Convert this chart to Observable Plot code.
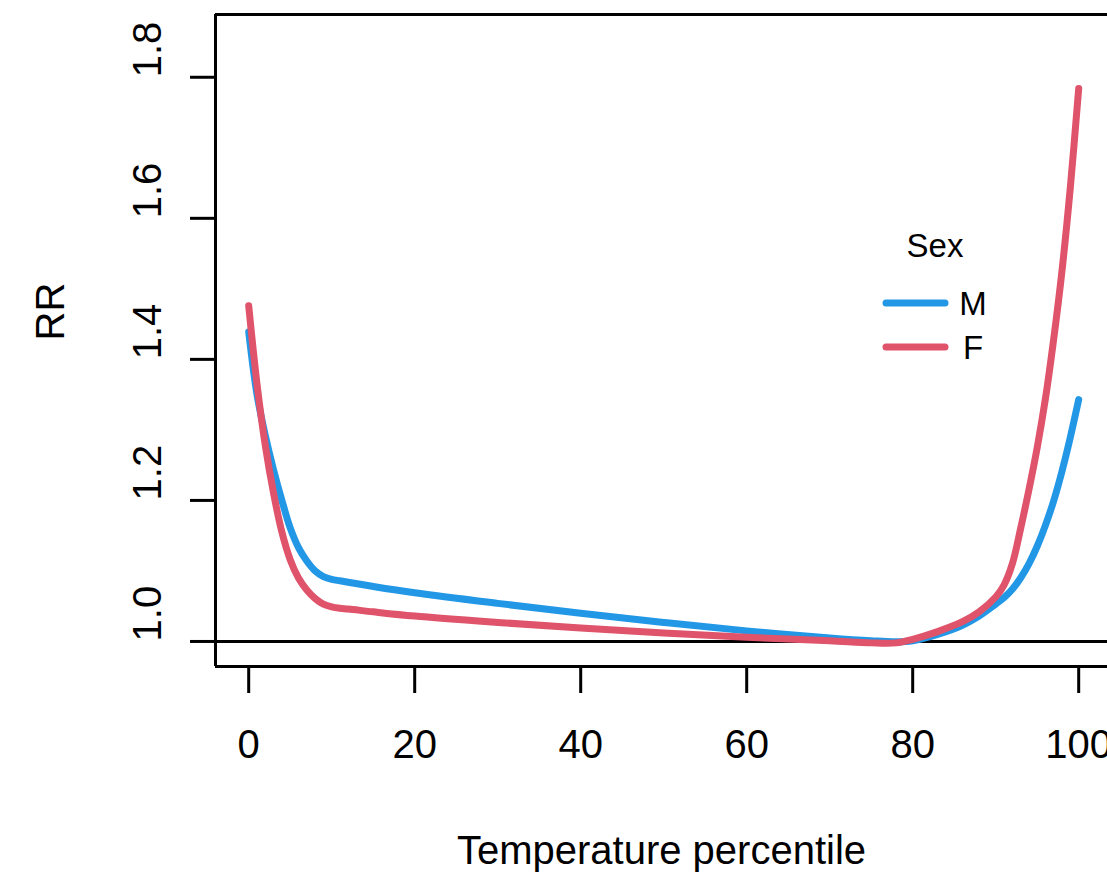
<!DOCTYPE html>
<html>
<head>
<meta charset="utf-8">
<script src="https://cdn.jsdelivr.net/npm/d3@7"></script>
<script src="https://cdn.jsdelivr.net/npm/@observablehq/plot@0.6"></script>
<style>
  body { margin: 0; background: #fff; }
  #chart { width: 1107px; height: 875px; }
</style>
</head>
<body>
<div id="chart"></div>
<script>
// ---- data ----
const percentile = [0,1,2,3,4,5,6,7,8,9,10,11,12,15,20,30,40,50,60,70,75,78,80,83,86,88,90,91,92,93,94,95,96,97,98,99,100];
const rrM = [1.439,1.350,1.292,1.243,1.200,1.161,1.133,1.114,1.100,1.092,1.088,1.086,1.084,1.078,1.069,1.054,1.040,1.027,1.015,1.005,1.001,0.9995,1.001,1.010,1.023,1.036,1.053,1.062,1.074,1.090,1.110,1.135,1.165,1.200,1.242,1.290,1.343];
const rrF = [1.476,1.365,1.278,1.210,1.155,1.116,1.090,1.073,1.061,1.053,1.049,1.047,1.046,1.042,1.036,1.027,1.019,1.012,1.006,1.001,0.998,0.998,1.003,1.014,1.028,1.042,1.063,1.080,1.110,1.160,1.215,1.275,1.345,1.430,1.527,1.645,1.784];
const series = ["M", "F"];
const seriesColors = ["#2297E6", "#DF536B"];
const xTicks = [0, 20, 40, 60, 80, 100];
const yTicks = [1.0, 1.2, 1.4, 1.6, 1.8];
const xLabel = "Temperature percentile";
const yLabel = "RR";
const legendTitle = "Sex";

const xDomain = [-4, 103.47];
const yDomain = [0.9645, 1.889];

const data = series.flatMap((s, i) =>
  percentile.map((p, j) => ({p, rr: (i === 0 ? rrM : rrF)[j], sex: s}))
);

const font = "'Liberation Sans', Arial, Helvetica, sans-serif";

const plot = Plot.plot({
  width: 1107,
  height: 875,
  marginLeft: 215,
  marginRight: 0,
  marginTop: 14,
  marginBottom: 209,
  style: {fontFamily: font, background: "white", overflow: "visible", color: "black"},
  x: {domain: xDomain},
  y: {domain: yDomain},
  color: {domain: series, range: seriesColors},
  marks: [
    Plot.ruleY([1], {stroke: "black", strokeWidth: 3}),
    Plot.line(data, {x: "p", y: "rr", stroke: "sex", z: "sex", strokeWidth: 7, curve: "catmull-rom", strokeLinecap: "round", strokeLinejoin: "round"}),
    Plot.ruleX([xDomain[0]], {stroke: "black", strokeWidth: 3}),
    Plot.ruleY([yDomain[0], yDomain[1]], {stroke: "black", strokeWidth: 3}),
    Plot.axisX(xTicks, {tickSize: 27, strokeWidth: 3, fontSize: 40, tickPadding: 36, label: null}),
    Plot.axisY(yTicks, {tickSize: 25, strokeWidth: 3, tickFormat: () => "", label: null}),
    Plot.text(yTicks, {y: d => d, frameAnchor: "left", rotate: -90, dx: -55, lineAnchor: "bottom", text: d => d.toFixed(1), fontSize: 40, fill: "black"}),
    Plot.text([xLabel], {frameAnchor: "bottom", dy: 197, lineAnchor: "bottom", fontSize: 40, fill: "black"}),
    Plot.text([yLabel], {frameAnchor: "left", rotate: -90, dx: -152, lineAnchor: "bottom", fontSize: 40, fill: "black"})
  ]
});

// legend inside the plot area
const svg = d3.select(plot);
const leg = svg.append("g").attr("font-family", font).attr("fill", "black");
leg.append("text").attr("x", 935).attr("y", 257).attr("text-anchor", "middle").attr("font-size", 33).text(legendTitle);
series.forEach((s, i) => {
  const y = 303 + i * 44;
  leg.append("line").attr("x1", 886).attr("x2", 945).attr("y1", y).attr("y2", y)
    .attr("stroke", seriesColors[i]).attr("stroke-width", 7).attr("stroke-linecap", "round");
  leg.append("text").attr("x", 973).attr("y", y + 12).attr("font-size", 33).text(s);
});

document.getElementById("chart").appendChild(plot);
</script>
</body>
</html>
